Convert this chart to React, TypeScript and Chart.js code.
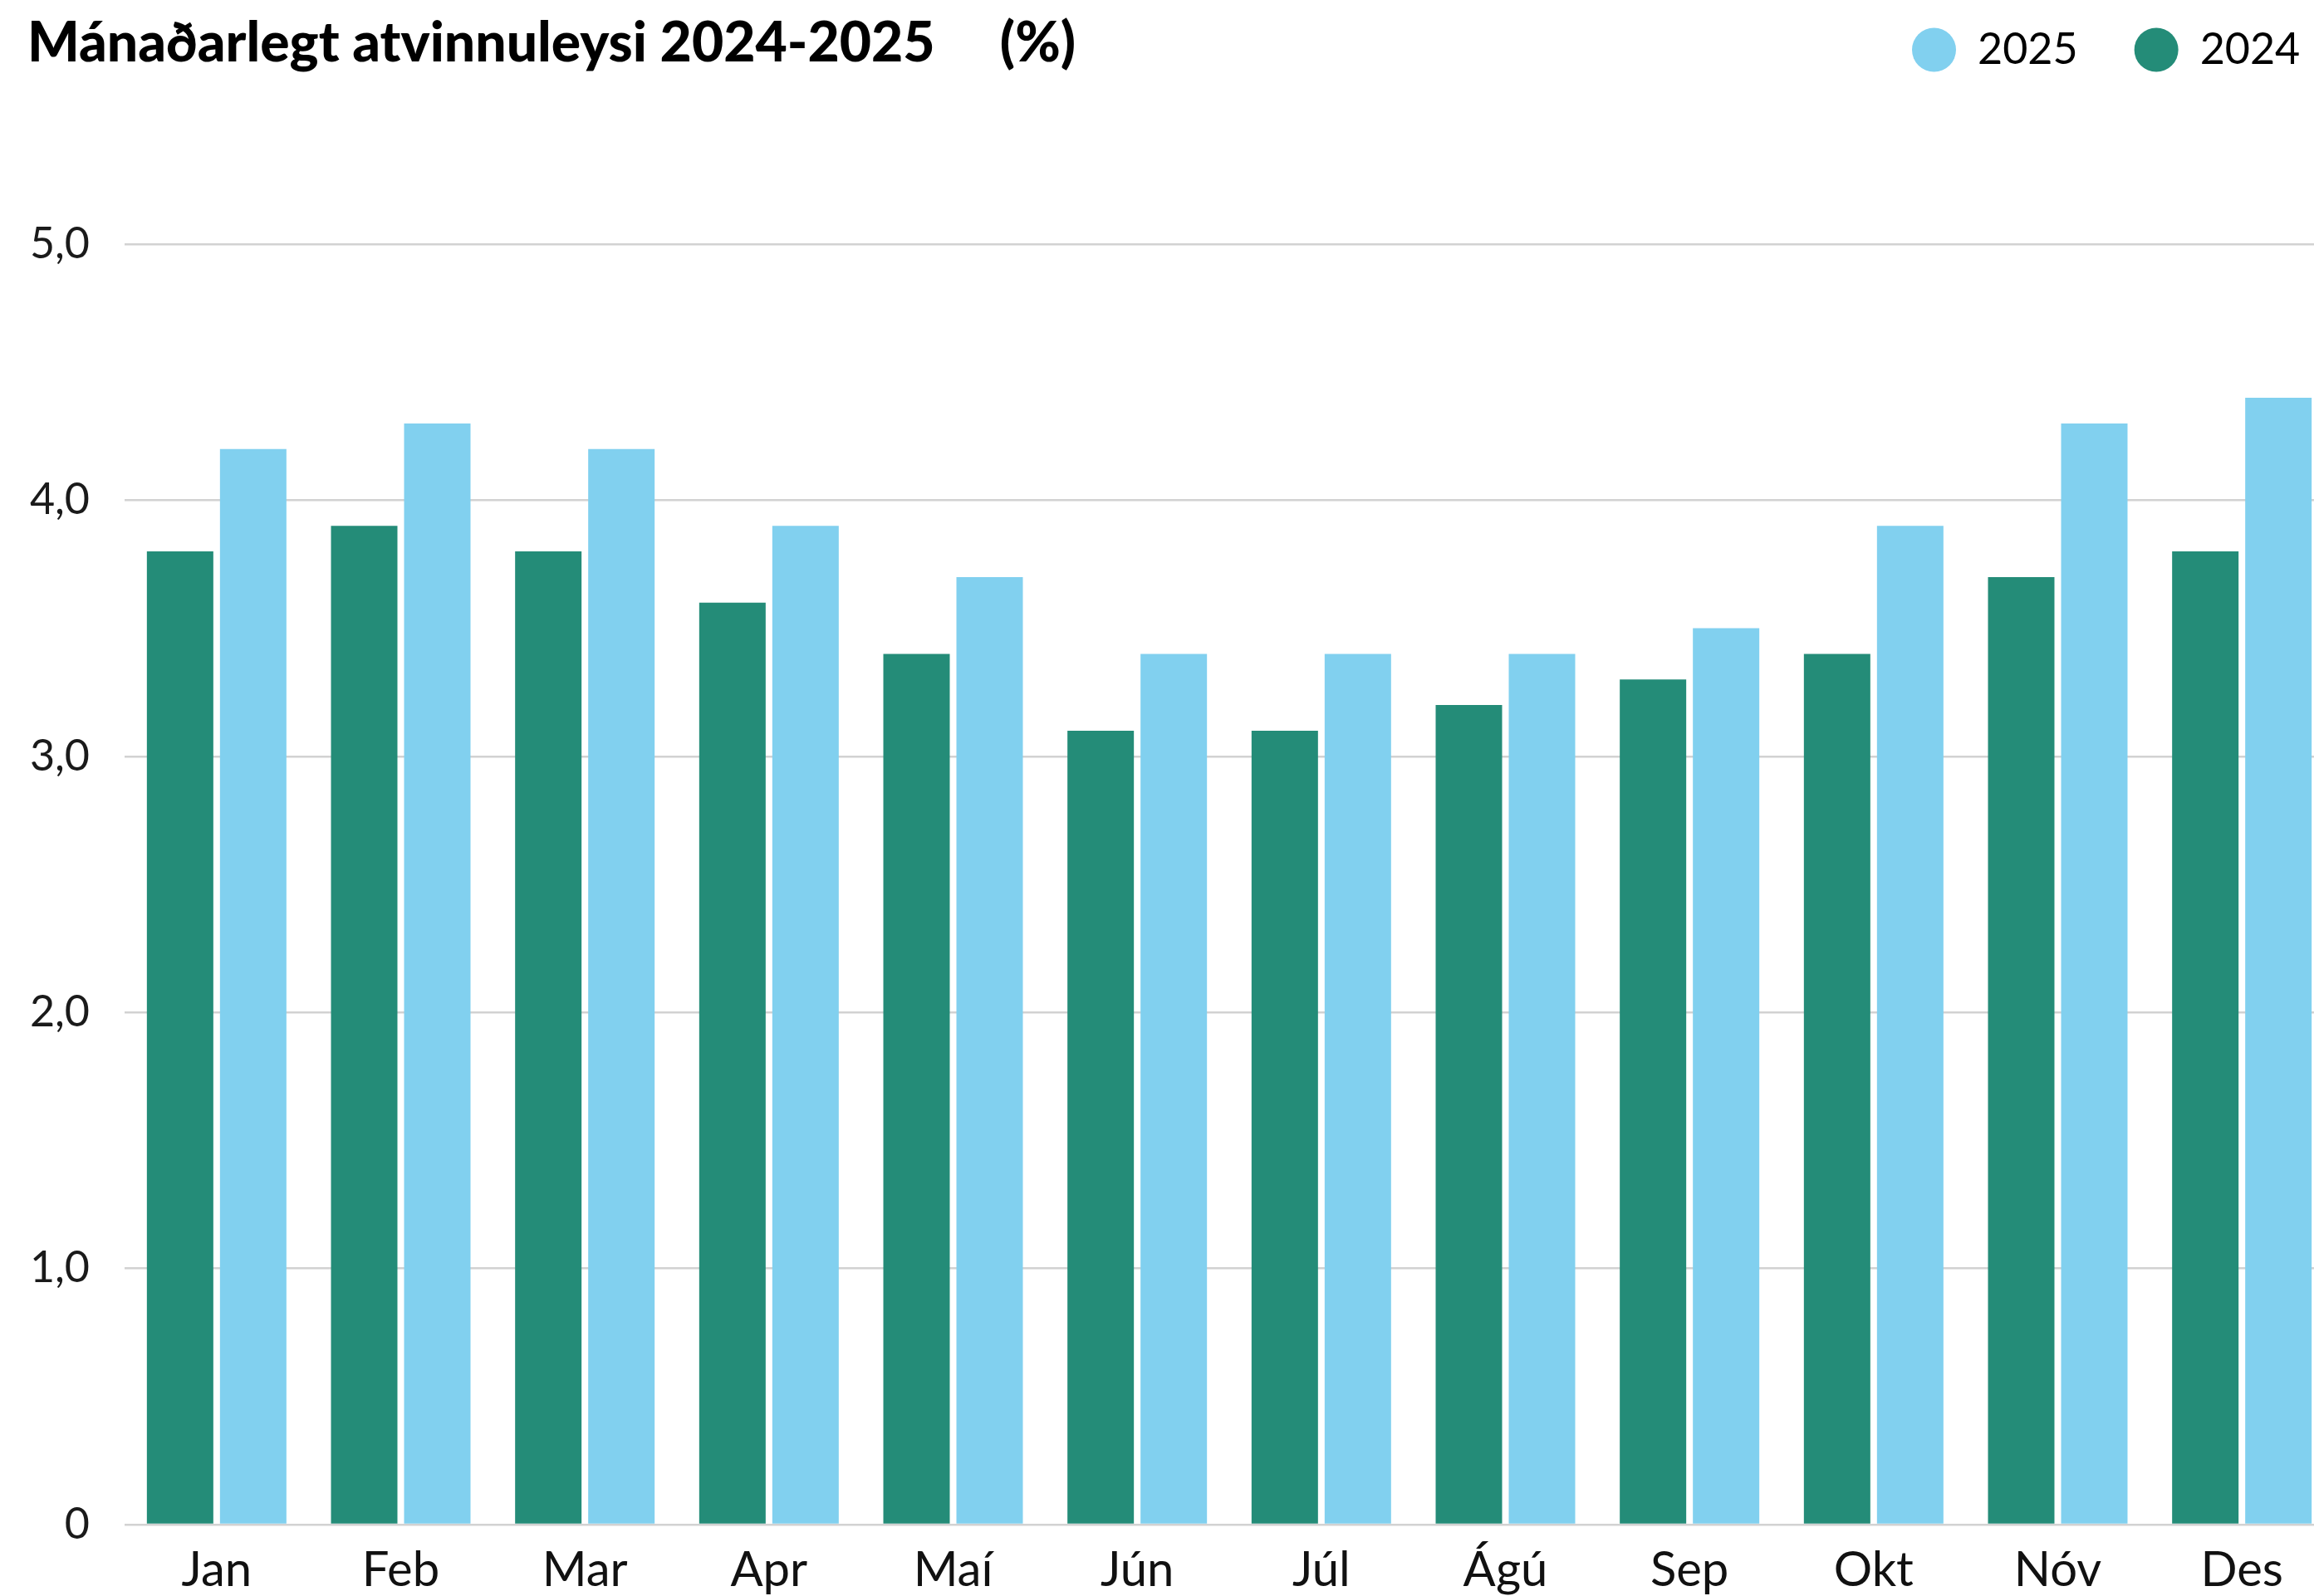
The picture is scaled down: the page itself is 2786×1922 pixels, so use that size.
import React, { useEffect, useRef } from "react";
import { Chart, registerables } from "chart.js";

Chart.register(...registerables);

const months = ["Jan", "Feb", "Mar", "Apr", "Maí", "Jún", "Júl", "Ágú", "Sep", "Okt", "Nóv", "Des"];
const values2024 = [3.8, 3.9, 3.8, 3.6, 3.4, 3.1, 3.1, 3.2, 3.3, 3.4, 3.7, 3.8];
const values2025 = [4.2, 4.3, 4.2, 3.9, 3.7, 3.4, 3.4, 3.4, 3.5, 3.9, 4.3, 4.4];
const seriesLabels = ["2024", "2025"];
const yTicks = [0, 1, 2, 3, 4, 5];
const titleText = "Mánaðarlegt atvinnuleysi 2024-2025     (%)";

const COLOR_2024 = "#248C78";
const COLOR_2025 = "#81D0EF";
const LEGEND_PAD = 68;

const legendShift = {
  id: "legendShift",
  afterLayout(chart: any) {
    const lg = chart.legend;
    if (!lg || !lg.lineWidths) return;
    const w = lg.lineWidths[0];
    const x0 = 2302;
    lg.left = x0 - LEGEND_PAD;
    lg.right = x0 + w;
    lg.width = lg.right - lg.left;
    lg.top = 34 - LEGEND_PAD;
    lg.bottom = lg.top + lg.height;
  },
};

export default function App() {
  const ref = useRef<HTMLCanvasElement>(null);
  useEffect(() => {
    if (!ref.current) return;
    const chart = new Chart(ref.current, {
      type: "bar",
      data: {
        labels: months,
        datasets: [
          {
            label: seriesLabels[0],
            data: values2024,
            backgroundColor: COLOR_2024,
            borderWidth: 0,
            categoryPercentage: 0.794,
            barPercentage: 0.909,
          },
          {
            label: seriesLabels[1],
            data: values2025,
            backgroundColor: COLOR_2025,
            borderWidth: 0,
            categoryPercentage: 0.794,
            barPercentage: 0.909,
          },
        ],
      },
      options: {
        animation: false,
        responsive: false,
        devicePixelRatio: 1,
        layout: { padding: { left: 33, top: 0, right: 0, bottom: 0 } },
        plugins: {
          tooltip: { enabled: false },
          title: {
            display: true,
            text: titleText,
            align: "start",
            color: "#000",
            font: { family: "Lato", size: 66, weight: 900 },
            padding: { top: 13, bottom: 71.8 },
          },
          legend: {
            display: true,
            position: "top",
            align: "end",
            reverse: true,
            labels: {
              usePointStyle: true,
              pointStyle: "circle",
              pointStyleWidth: 53,
              boxHeight: 37.5,
              padding: LEGEND_PAD,
              color: "#000",
              font: { family: "Lato", size: 52 },
            },
          },
        },
        scales: {
          x: {
            grid: { display: false },
            border: { display: false },
            ticks: {
              color: "#111",
              font: { family: "Lato", size: 58 },
              padding: 12,
              maxRotation: 0,
              autoSkip: false,
            },
            afterFit: (s: any) => {
              s.height = 86;
            },
          },
          y: {
            min: 0,
            max: 5,
            afterBuildTicks: (s: any) => {
              s.ticks = yTicks.map((v) => ({ value: v }));
            },
            ticks: {
              color: "#1a1a1a",
              font: { family: "Lato", size: 52 },
              padding: 42,
              callback: (v: any) => (Number(v) === 0 ? "0" : Number(v).toFixed(1).replace(".", ",")),
            },
            grid: { color: "#d2d2d2", lineWidth: 2.5, drawTicks: false },
            border: { display: false },
            afterFit: (s: any) => {
              s.width = 117;
            },
          },
        },
      },
      plugins: [legendShift],
    });
    return () => chart.destroy();
  }, []);

  return (
    <div
      style={{
        position: "fixed",
        left: 0,
        top: 0,
        width: 2786,
        height: 1922,
        overflow: "hidden",
        background: "#fff",
      }}
    >
      <canvas ref={ref} width={2810} height={1922} style={{ display: "block", width: 2810, height: 1922 }} />
    </div>
  );
}
